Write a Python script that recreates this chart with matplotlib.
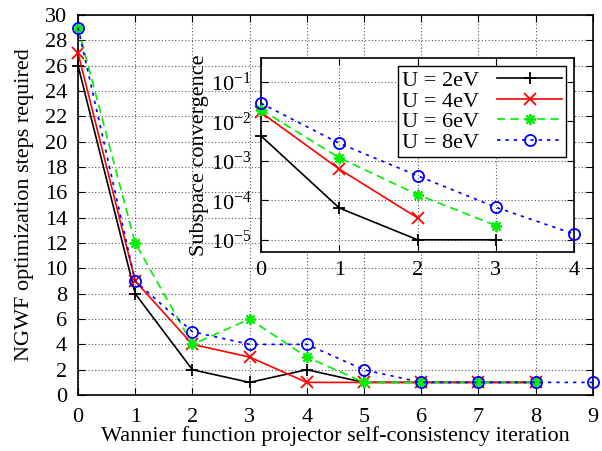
import matplotlib
matplotlib.use("Agg")
import matplotlib.pyplot as plt

plt.rcParams['font.family'] = ['Liberation Serif', 'DejaVu Serif']
plt.rcParams['mathtext.fontset'] = 'stix'

# main plot: NGWF steps vs projector iteration
it_main = [0, 1, 2, 3, 4, 5, 6, 7, 8, 9]
steps_u2 = [26, 8, 2, 1, 2, 1, 1, 1, 1]
steps_u4 = [27, 9, 4, 3, 1, 1, 1, 1, 1]
steps_u6 = [29, 12, 4, 6, 3, 1, 1, 1, 1]
steps_u8 = [29, 9, 5, 4, 4, 2, 1, 1, 1, 1]

# inset: subspace convergence
conv_u2 = [4.3e-3, 6.4e-5, 1.0e-5, 1.0e-5]
conv_u4 = [1.7e-2, 6.2e-4, 3.6e-5]
conv_u6 = [2.0e-2, 1.2e-3, 1.4e-4, 2.3e-5]
conv_u8 = [2.9e-2, 2.8e-3, 4.2e-4, 6.7e-5, 1.4e-5]
conv_ticks = [1e-5, 1e-4, 1e-3, 1e-2, 1e-1]

labels = ["U = 2eV", "U = 4eV", "U = 6eV", "U = 8eV"]
colors = ["black", "#ff0000", "#00ee00", "#0000ff"]
styles = ["-", "-", (0, (5, 3)), (0, (2, 3))]
markers = ["+", "x", (8, 2, 0), "o"]

fs = 16

fig = plt.figure(figsize=(6.02, 4.51), dpi=100)
ax = fig.add_axes([0.1296, 0.124, 0.855, 0.843])

main_series = [steps_u2, steps_u4, steps_u6, steps_u8]
for i, s in enumerate(main_series):
    ax.plot(it_main[:len(s)], s, color=colors[i], ls=styles[i], marker=markers[i],
            ms=8, mfc='none', mew=1.3, lw=1.2, clip_on=False, zorder=3)

ax.set_xlim(0, 9)
ax.set_ylim(0, 30)
ax.set_xticks(range(0, 10))
ax.set_yticks(range(0, 31, 2))
ax.grid(True, color='#555555', ls=(0, (1, 2)), lw=0.8)
ax.tick_params(direction='in', top=True, right=True, labelsize=fs, length=5, pad=8)
ax.tick_params(axis='x', pad=9)
ax.set_xlabel("Wannier function projector self-consistency iteration", fontsize=fs, labelpad=0)
ax.set_ylabel("NGWF optimization steps required", fontsize=fs, labelpad=8)
for sp in ax.spines.values():
    sp.set_linewidth(1.2)

ins = fig.add_axes([0.4336, 0.442, 0.5199, 0.4287])
ins_series = [conv_u2, conv_u4, conv_u6, conv_u8]
for i, s in enumerate(ins_series):
    ins.plot(range(len(s)), s, color=colors[i], ls=styles[i], marker=markers[i],
             ms=8, mfc='none', mew=1.3, lw=1.2, clip_on=False, zorder=3, label=labels[i])

ins.set_yscale('log')
ins.set_xlim(0, 4)
ins.set_ylim(5e-6, 0.4)
ins.set_xticks(range(0, 5))
ins.set_yticks(conv_ticks)
ins.grid(True, which='major', color='#555555', ls=(0, (1, 2)), lw=0.8)
ins.tick_params(which='both', direction='in', top=True, right=True, labelsize=fs, pad=7)
ins.tick_params(which='major', length=5)
ins.tick_params(which='minor', length=3)
ins.set_ylabel("Subspace convergence", fontsize=fs, labelpad=1)
for sp in ins.spines.values():
    sp.set_linewidth(1.2)

leg = ins.legend(loc='upper right', markerfirst=False, fontsize=fs, fancybox=False,
                 framealpha=1, edgecolor='black', borderpad=0.2, labelspacing=0.0,
                 handlelength=2.9, handletextpad=0.8, borderaxespad=0.35)
leg.get_frame().set_linewidth(1.0)

fig.savefig("out.png", dpi=100)
